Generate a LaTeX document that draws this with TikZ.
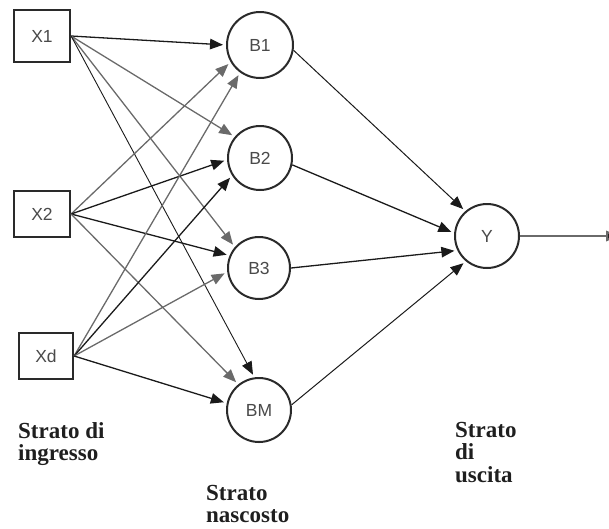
\documentclass[tikz,border=0pt]{standalone}
\usepackage{fontspec}
\setmainfont{Liberation Serif}
\setsansfont{Liberation Sans}
\usetikzlibrary{arrows.meta}
\definecolor{ink}{HTML}{2A2A2A}
\definecolor{darkedge}{HTML}{1A1A1A}
\definecolor{greyedge}{HTML}{6A6A6A}
\tikzset{
  inbox/.style={draw=ink, line width=2.2pt, fill=white, inner sep=0pt,
    font=\sffamily\fontsize{17.5}{17.5}\selectfont, text=ink!85},
  neuron/.style={circle, draw=ink, line width=2pt, fill=white, inner sep=0pt,
    minimum size=64pt, font=\sffamily\fontsize{17.5}{17.5}\selectfont, text=ink!85},
  link/.style={line width=1.3pt, -{Triangle[length=13pt,width=10.5pt]}, shorten >=3pt},
  dk/.style={link, draw=darkedge},
  gr/.style={link, draw=greyedge},
  layerlabel/.style={anchor=north west, inner sep=0pt, align=left,
    font=\bfseries\fontsize{23}{22.5}\selectfont, text=black!88},
}
\begin{document}
\begin{tikzpicture}[x=1pt, y=1pt]
  \useasboundingbox (0,0) rectangle (609,-528);

  % input layer
  \node[inbox, minimum width=56pt, minimum height=52pt] (X1) at (42,-36) {X1};
  \node[inbox, minimum width=56pt, minimum height=46pt] (X2) at (42,-214) {X2};
  \node[inbox, minimum width=54pt, minimum height=46pt] (Xd) at (46,-356) {Xd};

  % hidden layer
  \node[neuron, minimum size=66pt] (B1) at (260,-45) {B1};
  \node[neuron] (B2) at (260,-158) {B2};
  \node[neuron, minimum size=62pt] (B3) at (259,-268) {B3};
  \node[neuron] (BM) at (259,-410) {BM};

  % output layer
  \node[neuron] (Y) at (487,-236) {Y};
  \coordinate (out) at (619,-236);

  % input -> hidden
  \draw[dk] (X1.east) -- (B1.180);
  \draw[gr] (X1.east) -- (B2.140);
  \draw[gr] (X1.east) -- (B3.139);
  \draw[dk, line width=0.9pt] (X1.east) -- (BM.98);

  \draw[gr] (X2.east) -- (B1.210);
  \draw[dk] (X2.east) -- (B2.183);
  \draw[dk] (X2.east) -- (B3.157);
  \draw[gr] (X2.east) -- (BM.129);

  \draw[gr] (Xd.east) -- (B1.234);
  \draw[dk] (Xd.east) -- (B2.212);
  \draw[gr] (Xd.east) -- (B3.187);
  \draw[dk] (Xd.east) -- (BM.168);

  % hidden -> output
  \draw[dk, line width=1pt] (B1.-9) -- (Y.131);
  \draw[dk] (B2.-12) -- (Y.175);
  \draw[dk] (B3.0) -- (Y.206);
  \draw[dk, line width=1pt] (BM.9) -- (Y.230);

  % network output
  \draw[greyedge, line width=2pt, -{Triangle[length=13pt,width=10.5pt,fill=darkedge]}] (Y.east) -- (out);

  % layer captions
  \node[layerlabel] (capIn) at (18,-422) {Strato di\\ingresso};
  \node[layerlabel] (capHid) at (206,-485) {Strato\\nascosto};
  \node[layerlabel] (capOut) at (455,-422) {Strato\\di\\uscita};
\end{tikzpicture}
\end{document}
